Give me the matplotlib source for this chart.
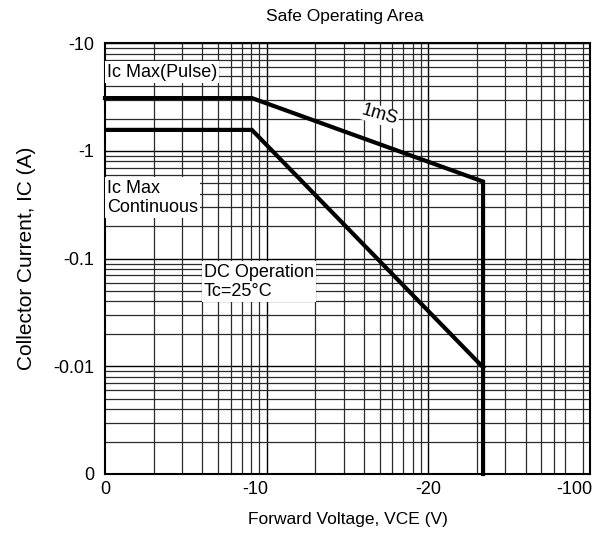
import matplotlib
matplotlib.use("Agg")
import matplotlib.pyplot as plt
from matplotlib.ticker import LogLocator, NullFormatter, FixedLocator, FixedFormatter

plt.rcParams['font.family'] = ['Liberation Sans', 'DejaVu Sans']

# Data (x in the chart's own log-position units, y = |Ic| in A)
pulse_x = [1.0, 8.1, 218.0, 218.0]
pulse_y = [3.1, 3.1, 0.52, 0.001]
dc_x = [1.0, 8.1, 218.0]
dc_y = [1.57, 1.57, 0.0098]

x_tick_pos = [1.0, 8.5, 100.0, 800.0]
x_tick_lab = ['0', '-10', '-20', '-100']
y_tick_pos = [0.001, 0.01, 0.1, 1.0, 10.0]
y_tick_lab = ['0', '-0.01', '-0.1', '-1', '-10']

fig = plt.figure(figsize=(6.06, 5.36), dpi=100)
ax = fig.add_axes([105/606, 62/536, 485/606, (474-43.3)/536])
ax.set_xscale('log')
ax.set_yscale('log')
ax.set_xlim(1, 1000)
ax.set_ylim(0.001, 10)

# minor grid
ax.xaxis.set_minor_locator(LogLocator(base=10, subs=range(2, 10)))
ax.yaxis.set_minor_locator(LogLocator(base=10, subs=range(2, 10)))
ax.grid(True, which='minor', color='#2a2a2a', lw=0.9)
ax.set_axisbelow(True)

# decade grid lines
for xv in [10, 100, 1000]:
    ax.axvline(xv, color='black', lw=1.0, zorder=0.5)
for yv in [0.01, 0.1, 1, 10]:
    ax.axhline(yv, color='black', lw=1.0, zorder=0.5)

# custom tick labels (no tick marks)
ax.xaxis.set_major_locator(FixedLocator(x_tick_pos))
ax.xaxis.set_major_formatter(FixedFormatter(x_tick_lab))
ax.xaxis.set_minor_formatter(NullFormatter())
ax.yaxis.set_major_locator(FixedLocator(y_tick_pos))
ax.yaxis.set_major_formatter(FixedFormatter(y_tick_lab))
ax.yaxis.set_minor_formatter(NullFormatter())
ax.grid(False, which='major')
ax.tick_params(which='both', length=0, labelsize=13, colors='black')
ax.tick_params(axis='x', pad=5)
ax.tick_params(axis='y', pad=8)

for s in ax.spines.values():
    s.set_linewidth(1.5)
    s.set_color('black')

ax.plot(pulse_x, pulse_y, color='black', lw=3.0, solid_joinstyle='miter', zorder=5, clip_on=False)
ax.plot(dc_x, dc_y, color='black', lw=3.0, solid_joinstyle='miter', zorder=5)

box = dict(facecolor='white', edgecolor='none', pad=1.5)
ax.text(0.004, 0.933, 'Ic Max(Pulse)', transform=ax.transAxes, ha='left', va='center',
        fontsize=13, bbox=box, zorder=6)
ax.text(0.004, 0.641, 'Ic Max\nContinuous', transform=ax.transAxes, ha='left', va='center',
        fontsize=13, bbox=box, zorder=6, linespacing=1.2)
ax.text(0.204, 0.446, 'DC Operation\nTc=25°C', transform=ax.transAxes, ha='left', va='center',
        fontsize=13, bbox=box, zorder=6, linespacing=1.2)
ax.text(0.567, 0.833, '1mS', transform=ax.transAxes, ha='center', va='center',
        fontsize=13, rotation=-16, bbox=dict(facecolor='white', edgecolor='none', pad=0.5), zorder=6)

ax.set_xlabel('Forward Voltage, VCE (V)', fontsize=12.5, labelpad=10)
ax.set_ylabel('Collector Current, IC (A)', fontsize=15, labelpad=12)
fig.text(345/606, 1 - 16/536, 'Safe Operating Area', ha='center', va='center', fontsize=12.5)

fig.savefig('out.png', dpi=100)
